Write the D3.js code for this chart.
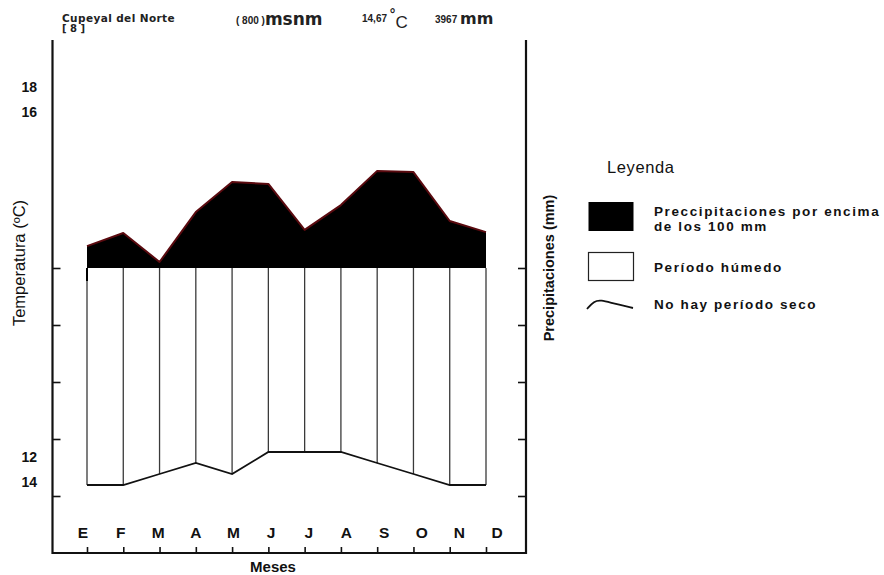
<!DOCTYPE html>
<html>
<head>
<meta charset="utf-8">
<script src="https://cdn.jsdelivr.net/npm/d3@7"></script>
<style>
  body { margin: 0; background: #fff; }
  svg { display: block; font-family: "Liberation Sans", Arial, sans-serif; }
</style>
</head>
<body>
<script>
// climate diagram data
const months = ['E', 'F', 'M', 'A', 'M', 'J', 'J', 'A', 'S', 'O', 'N', 'D'];
const precip = [191, 245, 125, 332, 457, 449, 258, 361, 503, 498, 295, 249]; // mm
const temp = [13.3, 13.3, 14.3, 15.3, 14.3, 16.3, 16.3, 16.3, 15.3, 14.3, 13.3, 13.3]; // ºC
const lowTicks = [20, 40, 60, 80, 100];
const topTempLabels = ['18', '16'];
const bottomTempLabels = ['12', '14'];

const W = 884, H = 575;
const frame = {left: 52.5, right: 526, top: 40, bottom: 553};

const svg = d3.select(document.body).append('svg')
  .attr('width', W)
  .attr('height', H);

const x = d3.scalePoint().domain(d3.range(12)).range([87, 486]);
const xLabel = d3.scalePoint().domain(d3.range(12)).range([83, 497]);
const yLow = d3.scaleLinear().domain([0, 100]).range([frame.bottom, 268]);
const yP = d3.scaleLinear().domain([100, 500]).range([268, 171.6]);
const yT = d3.scaleLinear().domain([13.3, 16.3]).range([485, 452]);
const yTopLab = d3.scalePoint().domain(topTempLabels).range([87, 112]);
const yBotLab = d3.scalePoint().domain(bottomTempLabels).range([457, 482]);

// precipitation above 100 mm
svg.append('path')
  .datum(precip)
  .attr('fill', '#000')
  .attr('d', d3.area().x((d, i) => x(i)).y0(yLow(100)).y1(d => yP(d)));
svg.append('path')
  .datum(precip)
  .attr('fill', 'none')
  .attr('stroke', '#5a0a0f')
  .attr('stroke-width', 2)
  .attr('stroke-linejoin', 'round')
  .attr('d', d3.line().x((d, i) => x(i)).y(d => yP(d)));

// humid period columns
svg.append('g').selectAll('line')
  .data(temp)
  .join('line')
  .attr('x1', (d, i) => x(i)).attr('x2', (d, i) => x(i))
  .attr('y1', yLow(100)).attr('y2', d => yT(d))
  .attr('stroke', '#3a3a3a')
  .attr('stroke-width', 1.3);

svg.append('line')
  .attr('x1', x(0)).attr('x2', x(0))
  .attr('y1', yLow(100)).attr('y2', yLow(100) + 13)
  .attr('stroke', '#000').attr('stroke-width', 2);

// temperature line
svg.append('path')
  .datum(temp)
  .attr('fill', 'none')
  .attr('stroke', '#111')
  .attr('stroke-width', 1.8)
  .attr('d', d3.line().x((d, i) => x(i)).y(d => yT(d)));

// axes
const axisStyle = g => {
  g.select('.domain').remove();
  g.selectAll('.tick line').attr('stroke', '#111').attr('stroke-width', 1.6);
};
svg.append('g')
  .attr('transform', `translate(${frame.left},0)`)
  .call(d3.axisRight(yLow).tickValues(lowTicks).tickSize(8).tickFormat(''))
  .call(axisStyle);
svg.append('g')
  .attr('transform', `translate(${frame.right},0)`)
  .call(d3.axisLeft(yLow).tickValues(lowTicks).tickSize(8).tickFormat(''))
  .call(axisStyle);
svg.append('g')
  .attr('transform', `translate(0,${frame.bottom})`)
  .call(d3.axisTop(x).tickSize(6).tickFormat(''))
  .call(axisStyle);

svg.append('path')
  .attr('fill', 'none')
  .attr('stroke', '#111')
  .attr('stroke-width', 2.2)
  .attr('d', `M${frame.left},${frame.top}V${frame.bottom}H${frame.right}V${frame.top}`);

// month labels
svg.append('g').selectAll('text')
  .data(months)
  .join('text')
  .attr('x', (d, i) => xLabel(i))
  .attr('y', 538)
  .attr('text-anchor', 'middle')
  .attr('font-size', 15.5)
  .attr('font-weight', 'bold')
  .attr('fill', '#111')
  .text(d => d);

// temperature labels
const tempLab = svg.append('g')
  .attr('text-anchor', 'end')
  .attr('font-size', 14)
  .attr('font-weight', 'bold')
  .attr('fill', '#111');
tempLab.selectAll('.top')
  .data(topTempLabels)
  .join('text')
  .attr('x', 37).attr('y', d => yTopLab(d) + 5)
  .text(d => d);
tempLab.selectAll('.bot')
  .data(bottomTempLabels)
  .join('text')
  .attr('x', 37).attr('y', d => yBotLab(d) + 5)
  .text(d => d);

// axis titles
svg.append('text')
  .attr('transform', 'translate(25,263) rotate(-90)')
  .attr('text-anchor', 'middle')
  .attr('font-size', 16.5)
  .attr('fill', '#111')
  .text('Temperatura (ºC)');
svg.append('text')
  .attr('transform', 'translate(554,268) rotate(-90)')
  .attr('text-anchor', 'middle')
  .attr('font-size', 14.5)
  .attr('font-weight', 'bold')
  .attr('fill', '#111')
  .text('Precipitaciones (mm)');
svg.append('text')
  .attr('x', 273).attr('y', 572)
  .attr('text-anchor', 'middle')
  .attr('font-size', 15)
  .attr('font-weight', 'bold')
  .attr('fill', '#111')
  .text('Meses');

// header
const head = svg.append('g').attr('fill', '#222').attr('font-weight', 'bold');
head.append('text').attr('x', 62).attr('y', 22).attr('font-size', 10.5).attr('letter-spacing', 0.4)
  .attr('font-family', '"DejaVu Sans", sans-serif').text('Cupeyal del Norte');
head.append('text').attr('x', 62).attr('y', 32).attr('font-size', 10)
  .attr('font-family', '"DejaVu Sans", sans-serif').text('[ 8 ]');
const alt = head.append('text').attr('x', 236).attr('y', 25);
alt.append('tspan').attr('font-size', 10).attr('dy', -1).text('( 800 )');
alt.append('tspan').attr('font-size', 17).attr('dy', 1)
  .attr('font-family', '"DejaVu Sans", sans-serif').text('msnm');
const tm = head.append('text').attr('x', 362).attr('y', 22);
tm.append('tspan').attr('font-size', 10).text('14,67 ');
tm.append('tspan').attr('font-size', 14).attr('dy', -3).text('°');
tm.append('tspan').attr('font-size', 17).attr('font-weight', 'normal').attr('dy', 9).text('C');
const pm = head.append('text').attr('x', 435).attr('y', 24);
pm.append('tspan').attr('font-size', 10).attr('dy', -1).text('3967 ');
pm.append('tspan').attr('font-size', 16).attr('dy', 1)
  .attr('font-family', '"DejaVu Sans", sans-serif').text('mm');

// legend
const leg = svg.append('g').attr('fill', '#111');
leg.append('text').attr('x', 607).attr('y', 173).attr('font-size', 16.5).attr('letter-spacing', 0.6).text('Leyenda');
leg.append('rect').attr('x', 588.5).attr('y', 202).attr('width', 45).attr('height', 29).attr('fill', '#000');
leg.append('rect').attr('x', 588.5).attr('y', 252.5).attr('width', 45).attr('height', 28)
  .attr('fill', '#fff').attr('stroke', '#222').attr('stroke-width', 1.2);
leg.append('path')
  .attr('fill', 'none').attr('stroke', '#111').attr('stroke-width', 1.8)
  .attr('d', d3.line().curve(d3.curveBasis)([[587, 309], [594, 301], [601, 300], [612, 303], [633, 308]]));
const legText = leg.append('g').attr('font-size', 13.5).attr('font-weight', 'bold').attr('letter-spacing', 1.6);
legText.append('text').attr('x', 654).attr('y', 216).text('Preccipitaciones por encima');
legText.append('text').attr('x', 654).attr('y', 231).text('de los 100 mm');
legText.append('text').attr('x', 654).attr('y', 272).text('Período húmedo');
legText.append('text').attr('x', 654).attr('y', 309).text('No hay período seco');
</script>
</body>
</html>
